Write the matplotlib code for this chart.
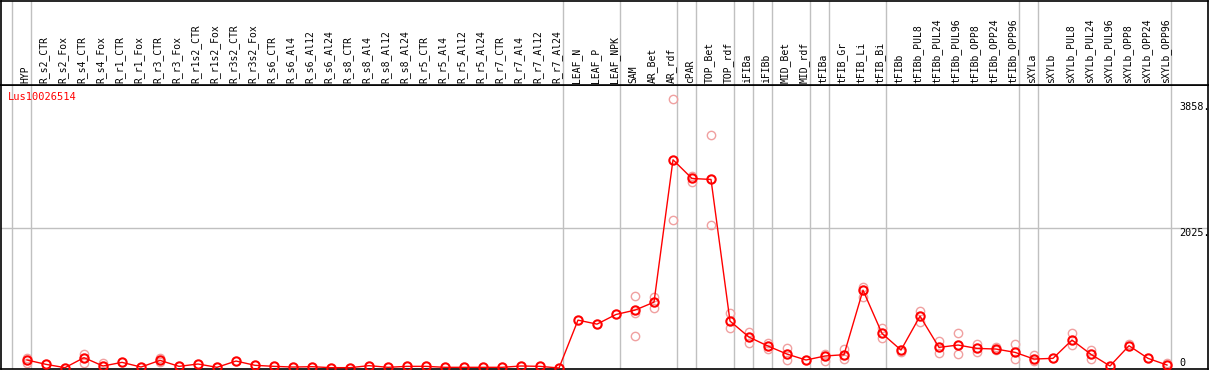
import numpy as np
import matplotlib
matplotlib.use("Agg")
import matplotlib.pyplot as plt

samples = ["HYP", "R_s2_CTR", "R_s2_Fox", "R_s4_CTR", "R_s4_Fox", "R_r1_CTR", "R_r1_Fox",
           "R_r3_CTR", "R_r3_Fox", "R_r1s2_CTR", "R_r1s2_Fox", "R_r3s2_CTR", "R_r3s2_Fox",
           "R_s6_CTR", "R_s6_Al4", "R_s6_Al12", "R_s6_Al24", "R_s8_CTR", "R_s8_Al4",
           "R_s8_Al12", "R_s8_Al24", "R_r5_CTR", "R_r5_Al4", "R_r5_Al12", "R_r5_Al24",
           "R_r7_CTR", "R_r7_Al4", "R_r7_Al12", "R_r7_Al24", "LEAF_N", "LEAF_P", "LEAF_NPK",
           "SAM", "AR_Bet", "AR_rdf", "cPAR", "TOP_Bet", "TOP_rdf", "iFIBa", "iFIBb",
           "MID_Bet", "MID_rdf", "tFIBa", "tFIB_Gr", "tFIB_Li", "tFIB_Bi", "tFIBb",
           "tFIBb_PUL8", "tFIBb_PUL24", "tFIBb_PUL96", "tFIBb_OPP8", "tFIBb_OPP24",
           "tFIBb_OPP96", "sXYLa", "sXYLb", "sXYLb_PUL8", "sXYLb_PUL24", "sXYLb_PUL96",
           "sXYLb_OPP8", "sXYLb_OPP24", "sXYLb_OPP96"]

# mean expression per sample
means = [116, 53, 5, 150, 29, 82, 14, 111, 24, 58, 10, 101, 39,
         24, 14, 19, 5, 5, 34, 10, 24, 24, 10, 10, 10, 10, 29, 24, 0,
         694, 636, 776, 839, 954, 3018, 2747, 2733, 680,
         448, 318, 202, 116, 174, 193, 1128, 501, 260,
         752, 299, 333, 284, 275, 227, 130, 140,
         405, 198, 29, 323, 140, 43]

# individual replicates (sample index, value)
rep_idx = [0, 0, 3, 3, 4, 7, 7, 32, 32, 32, 33, 33, 34, 34, 35, 35, 36, 36, 37, 37,
           38, 38, 39, 39, 40, 40, 42, 42, 43, 43, 44, 44, 45, 45, 46, 47, 47, 48, 48,
           49, 49, 50, 50, 51, 51, 52, 52, 53, 53, 55, 55, 56, 56, 58, 60]
rep_val = [150, 68, 202, 77, 68, 150, 91, 1037, 791, 458, 1022, 868, 3900, 2150,
           2781, 2694, 3379, 2078, 791, 574, 521, 357, 357, 270, 294, 116, 202, 106,
           270, 125, 1176, 1031, 574, 429, 236, 829, 670, 390, 222, 501, 198, 342, 236,
           308, 260, 347, 125, 188, 101, 501, 333, 260, 125, 342, 77]

# last sample of each group (gridline drawn just after it)
group_ends = [-1, 0, 28, 31, 34, 35, 37, 38, 39, 41, 42, 45, 52, 53, 60]
ytick_vals = [3858, 2025, 0]
gene = "Lus10026514"

W, H = 1209, 370
fig = plt.figure(figsize=(W / 100, H / 100), dpi=100)
mono = "DejaVu Sans Mono"

x0, x1 = 1, 1208
top_px, sep_px, bot_px = 0.5, 85, 368.7
ax = fig.add_axes([x0 / W, (H - bot_px) / H, (x1 - x0) / W, (bot_px - sep_px) / H])
hx = fig.add_axes([x0 / W, (H - sep_px) / H, (x1 - x0) / W, (sep_px - top_px) / H])

xlim = ((x0 - 27) / 19, (x1 - 27) / 19)
for a in (ax, hx):
    a.set_xlim(*xlim)
    a.set_xticks([])
    a.set_yticks([])
    for s in a.spines.values():
        s.set_color("black")
        s.set_linewidth(1.2)
    for g in group_ends:
        a.axvline(g + 0.2, color="#c0c0c0", lw=1, zorder=0)

ax.set_ylim(-10, 4102)
hx.set_ylim(0, 1)

x = np.arange(len(samples))
ax.axhline(2025, color="#c0c0c0", lw=1, zorder=0)
ax.plot(rep_idx, rep_val, "o", ls="none", ms=6, mfc="none", mec="#f0a0a0", mew=1, zorder=2)
ax.plot(x, means, "-", color="red", lw=1, zorder=3)
ax.plot(x, means, "o", ls="none", ms=6, mfc="none", mec="red", mew=1.5, zorder=4)

for v in ytick_vals:
    ax.text((1179 - x0) / (x1 - x0), v, f"{v}." if v else "0", transform=ax.get_yaxis_transform(),
            ha="left", va="top" if v else "bottom", fontsize=7.3, family=mono)

ax.text(7 / (x1 - x0), 1 - 12 / (bot_px - sep_px), gene, transform=ax.transAxes,
        color="red", fontsize=7.5, family=mono, ha="left", va="center")

for i, name in enumerate(samples):
    hx.text(i - 0.1, 2.5 / 85, name, rotation=90, ha="center", va="bottom",
            fontsize=7.0, family=mono)

fig.savefig("out.png", dpi=100)
